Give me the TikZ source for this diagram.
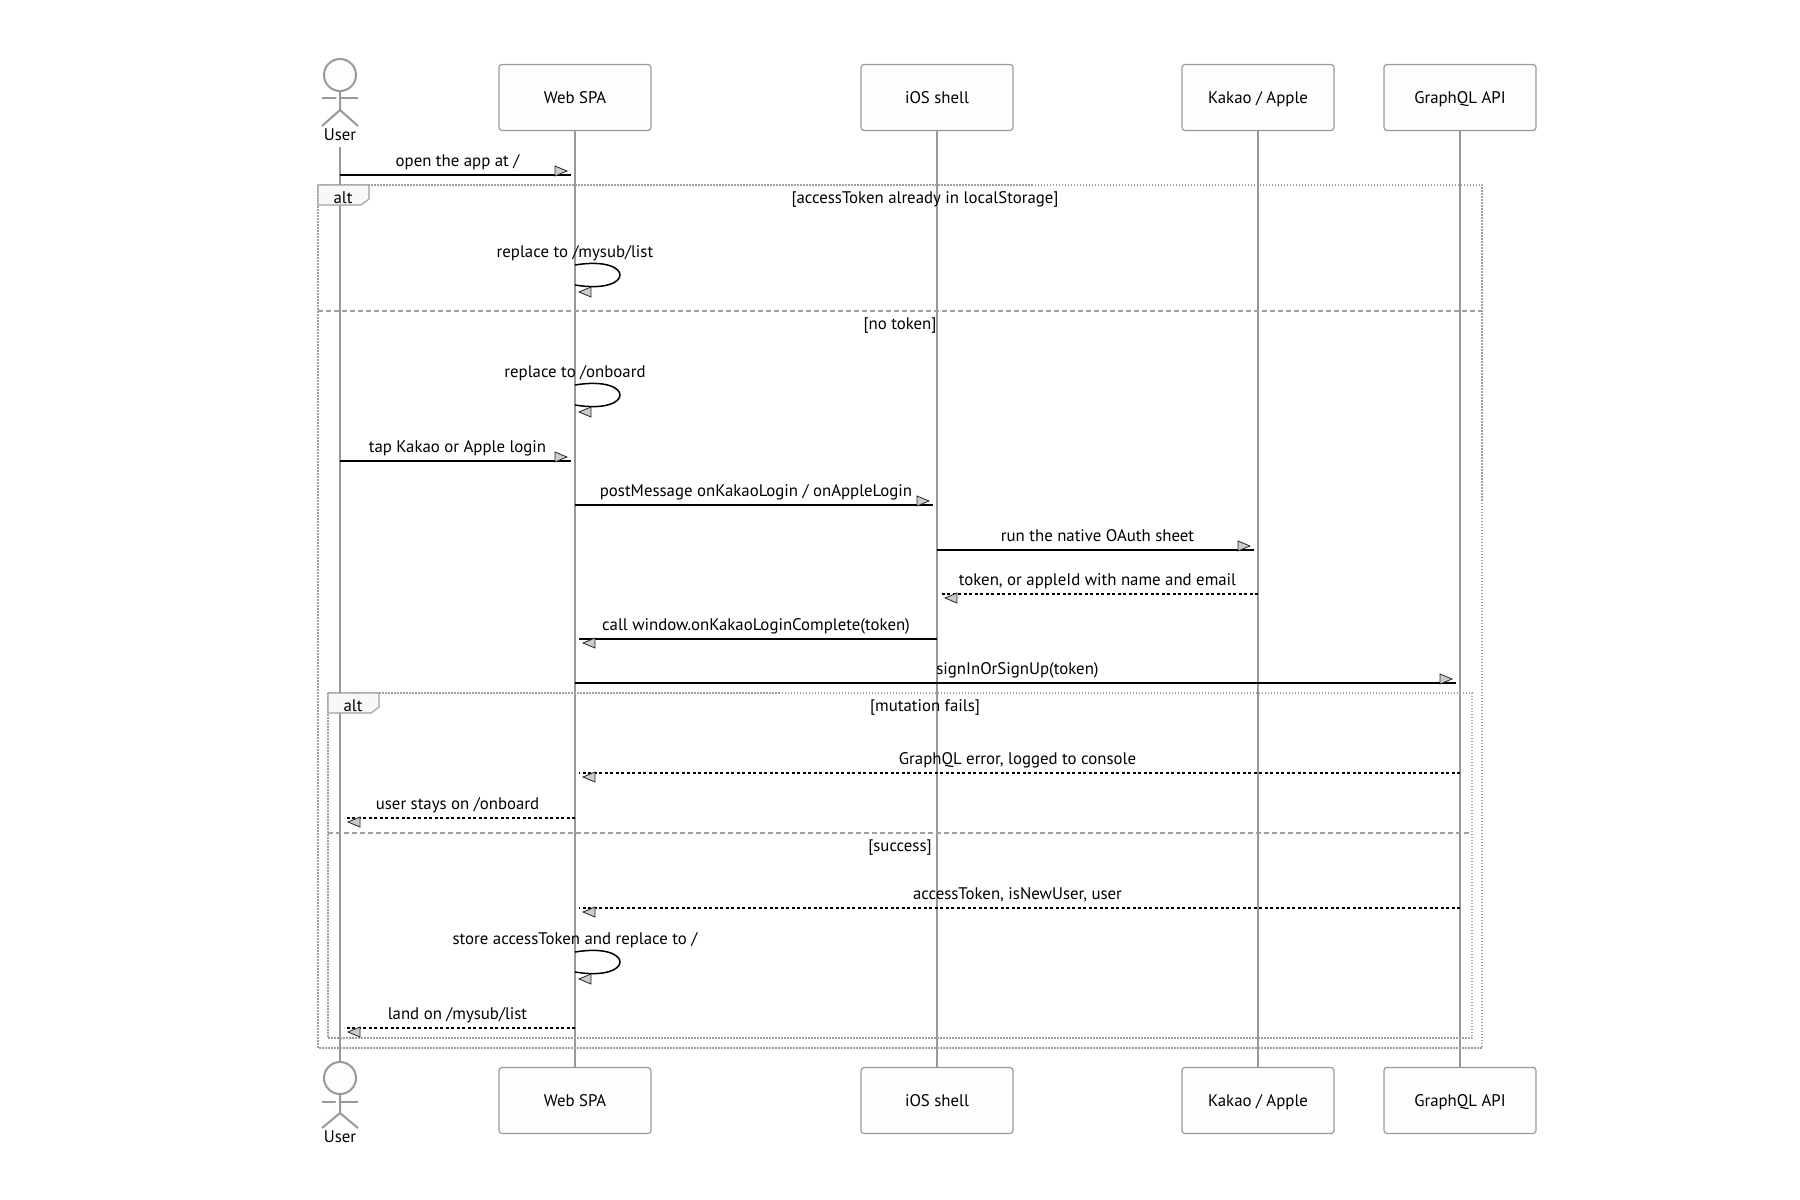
\documentclass[tikz,border=0pt]{standalone}
\usepackage{fontspec}
\setmainfont{PT Sans}
\usetikzlibrary{calc}
\definecolor{lifegray}{HTML}{999999}
\definecolor{boxgray}{HTML}{9A9A9A}
\definecolor{boxfill}{HTML}{FDFDFD}
\definecolor{framegray}{HTML}{A0A0A0}
\definecolor{tipgray}{HTML}{CCCCCC}
\definecolor{tagfill}{HTML}{F8F8F8}
\newcommand\txtsize{\fontsize{16.8}{20}\selectfont}
% rightward solid message: name, from, to, y, label
\newcommand\msgR[5]{%
  \draw[msg] (#2 |- 0,#4) -- ($(#3 |- 0,#4)+(-4,0)$);
  \filldraw[tiphead] ($(#3 |- 0,#4)+(-8,-4)$) -- ++(-12,-5) -- ++(0,10) -- cycle;
  \node[lbl] (#1) at ($(#2 |- 0,#4)!0.5!(#3 |- 0,#4)+(0,-9)$) {#5};}
% leftward message: name, from, to, y, label, style
\newcommand\msgL[6]{%
  \draw[#6] (#2 |- 0,#4) -- ($(#3 |- 0,#4)+(4,0)$);
  \filldraw[tiphead] ($(#3 |- 0,#4)+(8,4)$) -- ++(12,-5) -- ++(0,10) -- cycle;
  \node[lbl] (#1) at ($(#2 |- 0,#4)!0.5!(#3 |- 0,#4)+(0,-9)$) {#5};}
% self message on a lifeline: name, lifeline, start y, label
\newcommand\selfmsg[4]{%
  \draw[msg] (#2 |- 0,#3) .. controls ($(#2 |- 0,#3)+(60,-10)$) and ($(#2 |- 0,#3)+(60,30)$) .. ($(#2 |- 0,#3)+(0,20)$);
  \filldraw[tiphead] ($(#2 |- 0,#3)+(4,27)$) -- ++(12,-5) -- ++(0,10) -- cycle;
  \node[lbl] (#1) at ($(#2 |- 0,#3)+(0,-8)$) {#4};}
\begin{document}
\begin{tikzpicture}[x=1pt,y=-1pt,
  life/.style={draw=lifegray, line width=2pt},
  actor/.style={draw=lifegray, line width=2pt, fill=boxfill},
  msg/.style={draw=black, line width=1.5pt},
  reply/.style={msg, dash pattern=on 3pt off 2.5pt},
  tiphead/.style={draw=black!85, fill=tipgray, line width=0.8pt, line join=miter},
  lbl/.style={font=\txtsize, anchor=base, inner sep=0pt, text=black},
  pbox/.style={draw=boxgray, fill=boxfill, rounded corners=3pt, line width=1.2pt,
    minimum width=152pt, minimum height=66pt, font=\txtsize, text height=11.5pt, text depth=0pt},
  frame/.style={draw=framegray, line width=1.5pt, dash pattern=on 1.5pt off 1.5pt},
  sepline/.style={draw=framegray, line width=1.5pt, dash pattern=on 5pt off 3pt},
  tag/.style={draw=framegray, fill=tagfill, line width=1.2pt},
]
\path[use as bounding box, fill=white] (0,0) rectangle (1800,1200);

% participants
\node[pbox] (w)  at (575,97.5)   {Web SPA};
\node[pbox] (i)  at (937,97.5)   {iOS shell};
\node[pbox] (k)  at (1258,97.5)  {Kakao / Apple};
\node[pbox] (g)  at (1460,97.5)  {GraphQL API};
\node[pbox] (w2) at (575,1100.5) {Web SPA};
\node[pbox] (i2) at (937,1100.5) {iOS shell};
\node[pbox] (k2) at (1258,1100.5){Kakao / Apple};
\node[pbox] (g2) at (1460,1100.5){GraphQL API};

% user actor (top)
\draw[actor] (340,75) circle[radius=16pt];
\draw[actor] (322,98) -- (358,98);
\draw[actor] (340,91) -- (340,110) -- (322,126);
\draw[actor] (340,110) -- (358,126);
\node[lbl] (uT) at (340,140) {User};
% user actor (bottom)
\draw[actor] (340,1078) circle[radius=16pt];
\draw[actor] (322,1102) -- (358,1102);
\draw[actor] (340,1094) -- (340,1113) -- (322,1128);
\draw[actor] (340,1113) -- (358,1128);
\node[lbl] (uB) at (340,1142) {User};

\coordinate (u)  at (340,147);
\coordinate (ub) at (340,1062);

% lifelines
\draw[life] (u) -- (ub);
\draw[life] (w.south) -- (w2.north);
\draw[life] (i.south) -- (i2.north);
\draw[life] (k.south) -- (k2.north);
\draw[life] (g.south) -- (g2.north);

% outer alt frame
\draw[frame] (318,185) rectangle (1482,1048);
\draw[tag] (318,185) -- (369,185) -- (369,199) -- (361,205) -- (318,205) -- cycle;
\node[lbl] (alt1) at (343,203) {alt};
\node[lbl] (c1) at (925,203.5) {[accessToken already in localStorage]};
\draw[sepline] (318,311) -- (1482,311);
\node[lbl] (c2) at (900,329.5) {[no token]};

% inner alt frame
\draw[frame] (328,693) rectangle (1472,1038);
\draw[tag] (328,693) -- (379,693) -- (379,707) -- (371,713) -- (328,713) -- cycle;
\node[lbl] (alt2) at (353,711) {alt};
\node[lbl] (c3) at (925,711.5) {[mutation fails]};
\draw[sepline] (328,833) -- (1472,833);
\node[lbl] (c4) at (900,851.5) {[success]};

% messages
\msgR{m1}{u}{w}{175}{open the app at /}
\selfmsg{m2}{w}{265}{replace to /mysub/list}
\selfmsg{m3}{w}{385}{replace to /onboard}
\msgR{m4}{u}{w}{461}{tap Kakao or Apple login}
\msgR{m5}{w}{i}{505}{postMessage onKakaoLogin / onAppleLogin}
\msgR{m6}{i}{k}{550}{run the native OAuth sheet}
\msgL{m7}{k}{i}{594}{token, or appleId with name and email}{reply}
\msgL{m8}{i}{w}{639}{call window.onKakaoLoginComplete(token)}{msg}
\msgR{m9}{w}{g}{683}{signInOrSignUp(token)}
\msgL{m10}{g}{w}{773}{GraphQL error, logged to console}{reply}
\msgL{m11}{w}{u}{818}{user stays on /onboard}{reply}
\msgL{m12}{g}{w}{908}{accessToken, isNewUser, user}{reply}
\selfmsg{m13}{w}{952}{store accessToken and replace to /}
\msgL{m14}{w}{u}{1028}{land on /mysub/list}{reply}
\end{tikzpicture}
\end{document}
